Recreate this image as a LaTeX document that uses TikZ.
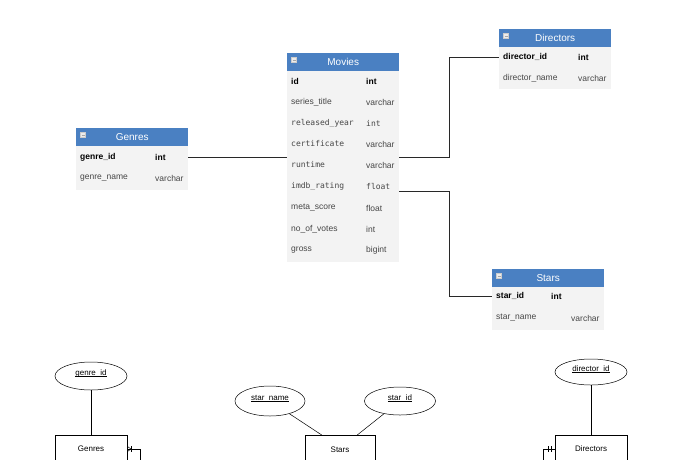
\documentclass[tikz,border=0pt]{standalone}
\usepackage{fontspec}
\setmainfont{Liberation Sans}
\setmonofont{DejaVu Sans Mono}
\usetikzlibrary{shapes.geometric}
\definecolor{hdrblue}{RGB}{74,128,194}
\definecolor{bodygray}{RGB}{243,243,243}
\definecolor{txtgray}{RGB}{70,70,70}
\definecolor{linegray}{RGB}{40,40,40}
\newcommand{\ulbox}[1]{\underline{\smash{#1}}}
\begin{document}
\begin{tikzpicture}[x=1pt,y=-1pt,
  hdr/.style={fill=hdrblue,draw=none,text=white,minimum width=112pt,minimum height=18pt,
    inner sep=0pt,anchor=north west,font=\fontsize{10}{12}\selectfont},
  bodybox/.style={fill=bodygray,draw=none,minimum width=112pt,inner sep=0pt,anchor=north west},
  icon/.style={fill=white!85!gray,draw=gray!40,minimum width=5pt,minimum height=5pt,inner sep=0pt},
  cell/.style={inner sep=0pt,anchor=west,text=txtgray,font=\fontsize{8.5}{10}\selectfont},
  mcell/.style={cell,font=\fontsize{8}{10}\selectfont\ttfamily},
  kcell/.style={cell,text=black,font=\fontsize{8.5}{10}\selectfont\bfseries},
  conn/.style={draw=linegray,line width=0.8pt},
  attr/.style={ellipse,draw=black,line width=0.5pt,inner sep=0pt,font=\fontsize{8}{9}\selectfont},
  ent/.style={rectangle,draw=black,line width=0.5pt,inner sep=0pt,minimum width=72pt,minimum height=50pt,anchor=north},
  ertext/.style={inner sep=0pt,font=\fontsize{8}{9}\selectfont},
  erline/.style={draw=black,line width=0.5pt}]
\useasboundingbox (0,0) rectangle (680,459);
\clip (0,0) rectangle (680,459);
\fill[white] (0,0) rectangle (680,459);

% ---------------- Movies
\node[bodybox,minimum height=191pt] (mv-b) at (287,71) {};
\node[hdr] (mv-h) at (287,53) {Movies};
\node[icon] (mv-i) at (294,60) {};
\draw[gray!70,line width=0.6pt] ([xshift=-1.5pt]mv-i.center) -- ([xshift=1.5pt]mv-i.center);
\node[kcell] (mv-r1) at (291,81) {id};            \node[kcell] (mv-t1) at (366,81) {int};
\node[cell]  (mv-r2) at (291,102) {series\_title}; \node[cell] (mv-t2) at (366,102) {varchar};
\node[mcell] (mv-r3) at (291,123) {released\_year};\node[mcell] (mv-t3) at (366,123) {int};
\node[mcell] (mv-r4) at (291,144) {certificate};  \node[cell] (mv-t4) at (366,144) {varchar};
\node[mcell] (mv-r5) at (291,165) {runtime};      \node[cell] (mv-t5) at (366,165) {varchar};
\node[mcell] (mv-r6) at (291,186) {imdb\_rating}; \node[mcell] (mv-t6) at (366,186) {float};
\node[cell]  (mv-r7) at (291,208) {meta\_score};  \node[cell] (mv-t7) at (366,208) {float};
\node[cell]  (mv-r8) at (291,229) {no\_of\_votes}; \node[cell] (mv-t8) at (366,229) {int};
\node[cell]  (mv-r9) at (291,250) {gross};        \node[cell] (mv-t9) at (366,250) {bigint};

% ---------------- Genres
\node[bodybox,minimum height=44pt] (gn-b) at (76,146) {};
\node[hdr] (gn-h) at (76,128) {Genres};
\node[icon] (gn-i) at (83,135) {};
\draw[gray!70,line width=0.6pt] ([xshift=-1.5pt]gn-i.center) -- ([xshift=1.5pt]gn-i.center);
\node[kcell] (gn-r1) at (80,157) {genre\_id};   \node[kcell] (gn-t1) at (155,157) {int};
\node[cell]  (gn-r2) at (80,178) {genre\_name}; \node[cell] (gn-t2) at (155,178) {varchar};

% ---------------- Directors
\node[bodybox,minimum height=42pt] (dr-b) at (499,47) {};
\node[hdr] (dr-h) at (499,29) {Directors};
\node[icon] (dr-i) at (506,36) {};
\draw[gray!70,line width=0.6pt] ([xshift=-1.5pt]dr-i.center) -- ([xshift=1.5pt]dr-i.center);
\node[kcell] (dr-r1) at (503,57) {director\_id};   \node[kcell] (dr-t1) at (578,57) {int};
\node[cell]  (dr-r2) at (503,78) {director\_name}; \node[cell] (dr-t2) at (578,78) {varchar};

% ---------------- Stars
\node[bodybox,minimum height=43pt] (st-b) at (492,287) {};
\node[hdr] (st-h) at (492,269) {Stars};
\node[icon] (st-i) at (499,276) {};
\draw[gray!70,line width=0.6pt] ([xshift=-1.5pt]st-i.center) -- ([xshift=1.5pt]st-i.center);
\node[kcell] (st-r1) at (496,296) {star\_id};   \node[kcell] (st-t1) at (551,296) {int};
\node[cell]  (st-r2) at (496,318) {star\_name}; \node[cell] (st-t2) at (571,318) {varchar};

% ---------------- connectors
\coordinate (mv-o2) at (399,191);
\draw[conn] (gn-b.east |- gn-r1) -- (mv-b.west |- gn-r1);
\draw[conn] (mv-b.east |- gn-r1) -- (449,157) |- (dr-b.west |- dr-r1);
\draw[conn] (mv-o2) -- (449,191) |- (st-b.west |- st-r1);

% ---------------- bottom ER diagram
\node[attr,minimum width=72pt,minimum height=28pt] (e-gid) at (91,376) {\ulbox{genre\_id}};
\node[ent] (b-gen) at (91,435) {};
\node[ertext] (b-gen-t) at (91,449) {Genres};
\draw[erline] (e-gid) -- (b-gen);
\draw[erline] (b-gen-t -| b-gen.east) -- ++(13,0) -- ++(0,30);
\draw[erline] (131,446) -- (131,452);
\draw[erline] (127.5,446.5) -- (131,449) -- (127.5,451.5);

\node[attr,minimum width=70pt,minimum height=30pt] (e-sn) at (270,401) {\ulbox{star\_name}};
\node[attr,minimum width=71pt,minimum height=28pt] (e-sid) at (400,401) {\ulbox{star\_id}};
\node[ent,minimum width=70pt] (b-st) at (340,435) {};
\node[ertext] (b-st-t) at (340,450) {Stars};
\draw[erline] (e-sn) -- ([xshift=17pt]b-st.north west);
\draw[erline] (e-sid) -- ([xshift=-18pt]b-st.north east);

\node[attr,minimum width=72pt,minimum height=26pt] (e-did) at (591,372) {\ulbox{director\_id}};
\node[ent] (b-dir) at (591,435) {};
\node[ertext] (b-dir-t) at (591,449) {Directors};
\draw[erline] (e-did) -- (b-dir);
\draw[erline] (b-dir-t -| b-dir.west) -- ++(-12,0) -- ++(0,30);
\draw[erline] (548,446) -- (548,452);
\draw[erline] (551,446) -- (551,452);
\end{tikzpicture}
\end{document}
